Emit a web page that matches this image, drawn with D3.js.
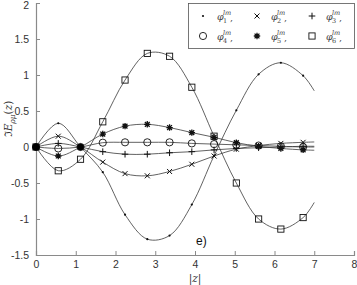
<!DOCTYPE html>
<html><head><meta charset="utf-8">
<script src="https://cdn.jsdelivr.net/npm/d3@7"></script>
<style>body{margin:0;background:#fff}svg{display:block}</style>
</head><body>
<script>
// data: sample positions along |z| (markers at every step, last point is curve end)
const zPos = [0, 0.56, 1.12, 1.68, 2.24, 2.80, 3.36, 3.92, 4.48, 5.04, 5.60, 6.16, 6.72, 7.00];
const phi1 = [0, 0.33, 0, -0.35, -0.94, -1.28, -1.23, -0.80, -0.12, 0.51, 1.01, 1.17, 0.99, 0.78];
const phi2 = [0, 0.15, 0, -0.21, -0.37, -0.40, -0.34, -0.24, -0.125, -0.03, 0.02, 0.05, 0.065, 0.07];
const phi3 = [0, 0.05, 0, -0.065, -0.10, -0.10, -0.08, -0.065, -0.04, -0.02, -0.01, 0.0, 0.01, 0.01];
const phi4 = [0, -0.02, 0, 0.06, 0.065, 0.065, 0.065, 0.05, 0.04, 0.03, 0.02, 0.01, 0.0, 0.0];
const phi5 = [0, -0.125, 0, 0.18, 0.29, 0.315, 0.27, 0.20, 0.135, 0.06, 0.01, -0.02, -0.04, -0.045];
const phi6 = [0, -0.33, -0.17, 0.35, 0.93, 1.30, 1.26, 0.83, 0.15, -0.50, -1.00, -1.14, -0.98, -0.77];
const nodeZ = [0, 1.12];          // common nodes drawn as filled dots
const nodeR = [3.6, 3.2];
const seriesNames = ["1", "2", "3", "4", "5", "6"];
const markerTypes = ["dot", "cross", "plus", "circle", "star", "square"];
const xTicks = [0, 1, 2, 3, 4, 5, 6, 7, 8];
const yTicks = [-1.5, -1, -0.5, 0, 0.5, 1, 1.5, 2];
const panelLabel = "e)";

const W = 357, H = 285;
const x = d3.scaleLinear().domain([0, 8]).range([36, 354]);
const y = d3.scaleLinear().domain([-1.5, 2]).range([255, 3]);
const svg = d3.select("body").append("svg").attr("width", W).attr("height", H);

const allSeries = [phi1, phi2, phi3, phi4, phi5, phi6];
const axisCol = "#8a8a8a";

// axes
const xAxis = d3.axisBottom(x).tickValues(xTicks).tickSize(-4).tickPadding(6).tickFormat(d3.format("d"));
const gx = svg.append("g").attr("transform", `translate(0,${y(-1.5)})`).call(xAxis);
const yAxis = d3.axisLeft(y).tickValues(yTicks).tickSize(-4).tickPadding(7).tickFormat(d => d < 0 ? "-" + Math.abs(d) : String(d));
const gy = svg.append("g").attr("transform", `translate(${x(0)},0)`).call(yAxis);
[gx, gy].forEach(g => {
  g.select(".domain").attr("stroke", axisCol).attr("stroke-width", 1.2);
  g.selectAll(".tick line").attr("stroke", axisCol);
  g.selectAll(".tick text").attr("fill", "#333").attr("font-family", "Liberation Sans, Arial, sans-serif").attr("font-size", 10.5);
});
gy.selectAll(".tick text").filter(d => d === 2).attr("dy", "0.5em");

// curves
const line = d3.line().x((d, i) => x(zPos[i])).y(d => y(d)).curve(d3.curveCatmullRom.alpha(0.5));
allSeries.forEach(s => {
  svg.append("path").attr("d", line(s)).attr("fill", "none").attr("stroke", "#3a3a3a").attr("stroke-width", 0.8);
});

function drawMarker(g, type, cx, cy) {
  const st = "#111";
  if (type === "dot") g.append("circle").attr("cx", cx).attr("cy", cy).attr("r", 1.1).attr("fill", st);
  else if (type === "cross") {
    const s = 2.5;
    g.append("path").attr("d", `M${cx-s},${cy-s}L${cx+s},${cy+s}M${cx-s},${cy+s}L${cx+s},${cy-s}`).attr("stroke", st).attr("stroke-width", 1);
  } else if (type === "plus") {
    const s = 3.3;
    g.append("path").attr("d", `M${cx-s},${cy}L${cx+s},${cy}M${cx},${cy-s}L${cx},${cy+s}`).attr("stroke", st).attr("stroke-width", 1);
  } else if (type === "circle") {
    g.append("circle").attr("cx", cx).attr("cy", cy).attr("r", 3.6).attr("fill", "none").attr("stroke", st).attr("stroke-width", 0.9);
  } else if (type === "star") {
    const s = 3.2, t = s * 0.75;
    g.append("path").attr("d", `M${cx-s},${cy}L${cx+s},${cy}M${cx},${cy-s}L${cx},${cy+s}M${cx-t},${cy-t}L${cx+t},${cy+t}M${cx-t},${cy+t}L${cx+t},${cy-t}`).attr("stroke", st).attr("stroke-width", 1.3);
    g.append("circle").attr("cx", cx).attr("cy", cy).attr("r", 1.4).attr("fill", st);
  } else if (type === "square") {
    const s = 3.1;
    g.append("rect").attr("x", cx - s).attr("y", cy - s).attr("width", 2 * s).attr("height", 2 * s).attr("fill", "none").attr("stroke", st).attr("stroke-width", 0.9);
  }
}

// markers (all sample positions except curve end)
const mg = svg.append("g");
allSeries.forEach((s, si) => {
  s.forEach((v, i) => {
    if (i === zPos.length - 1) return;
    drawMarker(mg, markerTypes[si], x(zPos[i]), y(v));
  });
});
nodeZ.forEach((z, i) => mg.append("circle").attr("cx", x(z)).attr("cy", y(0)).attr("r", nodeR[i]).attr("fill", "#000"));

// legend
const lg = svg.append("g");
lg.append("rect").attr("x", 188.5).attr("y", 3.5).attr("width", 166).attr("height", 45).attr("fill", "#fff").attr("stroke", "#555").attr("stroke-width", 0.8);
const colsM = [203, 257, 312], rowsY = [16, 36];
seriesNames.forEach((nm, i) => {
  const r = Math.floor(i / 3), c = i % 3;
  const mx = colsM[c], my = rowsY[r];
  drawMarker(lg, markerTypes[i], mx, my);
  const tx = mx + 14, ty = my + 4;
  const t = lg.append("text").attr("font-family", "DejaVu Serif, serif").attr("font-style", "italic").attr("fill", "#444").attr("font-size", 9.5);
  t.append("tspan").attr("x", tx).attr("y", ty).text("φ");
  t.append("tspan").attr("x", tx + 6).attr("y", ty - 5).attr("font-size", 6.5).text("lm");
  t.append("tspan").attr("x", tx + 6).attr("y", ty + 3).attr("font-size", 6.5).attr("font-style", "normal").text(nm);
  t.append("tspan").attr("x", tx + 13).attr("y", ty + 1).attr("font-style", "normal").text(",");
});

// y label
const yl = svg.append("text").attr("transform", `translate(12,119) rotate(-90)`).attr("text-anchor", "middle")
  .attr("font-family", "DejaVu Serif, serif").attr("font-size", 10.5).attr("fill", "#333");
yl.append("tspan").text("ℑ");
yl.append("tspan").attr("font-style", "italic").text("E");
yl.append("tspan").attr("font-style", "italic").attr("font-size", 7.5).attr("dy", 2.5).text("ρμ");
yl.append("tspan").attr("dy", -2.5).text("(");
yl.append("tspan").attr("font-style", "italic").text("z");
yl.append("tspan").text(")");

// x label
const xl = svg.append("text").attr("x", x(4)).attr("y", 282).attr("text-anchor", "middle")
  .attr("font-family", "DejaVu Serif, serif").attr("font-size", 10.5).attr("fill", "#333");
xl.append("tspan").text("|");
xl.append("tspan").attr("font-style", "italic").text("z");
xl.append("tspan").text("|");

// panel label
svg.append("text").attr("x", 196).attr("y", 245).attr("font-family", "Liberation Sans, Arial, sans-serif").attr("font-size", 12).attr("fill", "#111").text(panelLabel);
</script>
</body></html>
